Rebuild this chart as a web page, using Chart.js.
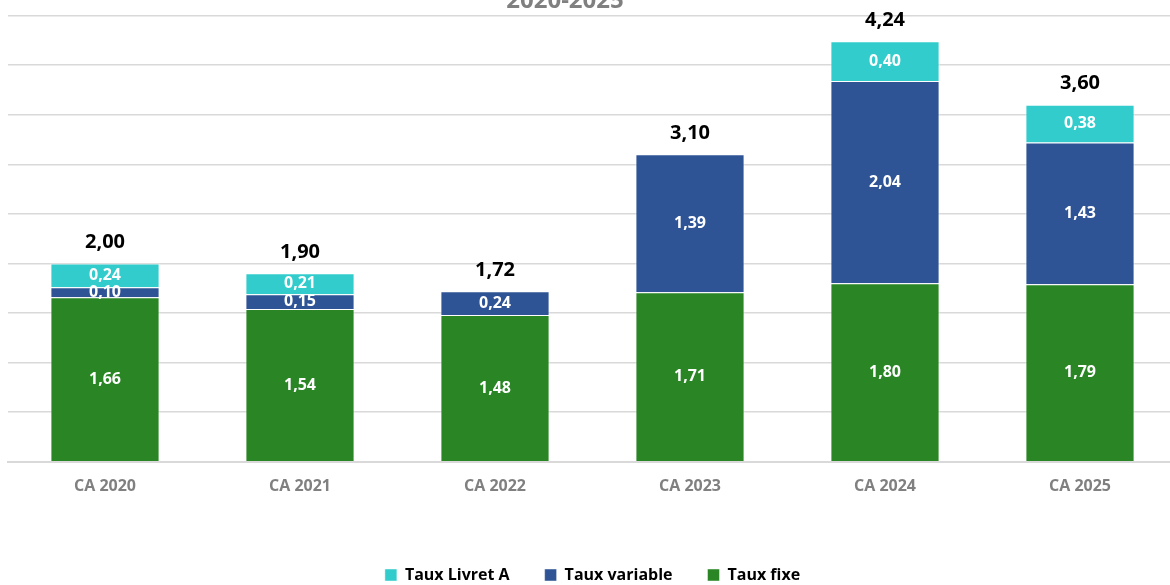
<!DOCTYPE html>
<html>
<head>
<meta charset="utf-8">
<script src="https://cdn.jsdelivr.net/npm/chart.js@4.4.0/dist/chart.umd.min.js"></script>
<style>
  html, body { margin: 0; padding: 0; background: #fff; overflow: hidden; width: 1170px; height: 585px; }
  #wrap { position: absolute; left: 0; top: -35px; width: 1180px; height: 628px; }
</style>
</head>
<body>
<div id="wrap"><canvas id="chart"></canvas></div>
<script>
// Données
const categories = ['CA 2020', 'CA 2021', 'CA 2022', 'CA 2023', 'CA 2024', 'CA 2025'];
const tauxFixe = [1.66, 1.54, 1.48, 1.71, 1.80, 1.79];
const tauxVariable = [0.10, 0.15, 0.24, 1.39, 2.04, 1.43];
const tauxLivretA = [0.24, 0.21, 0, 0, 0.40, 0.38];
const totaux = [2.00, 1.90, 1.72, 3.10, 4.24, 3.60];
const titre = '2020-2025';

const police = '"Open Sans", "Noto Sans", Arial, sans-serif';

function formatFr(v) {
    return v.toFixed(2).replace('.', ',');
}

// titre (coupé en haut) + étiquettes dans les barres + totaux au-dessus
const etiquettes = {
    id: 'etiquettes',
    afterDatasetsDraw(chart) {
        const ctx = chart.ctx;
        ctx.save();
        ctx.textAlign = 'center';

        ctx.textBaseline = 'alphabetic';
        ctx.fillStyle = '#808080';
        ctx.font = 'bold 24px ' + police;
        ctx.fillText(titre, 565, 43);

        ctx.textBaseline = 'middle';
        ctx.fillStyle = '#ffffff';
        ctx.font = 'bold 16px ' + police;
        chart.data.datasets.forEach((ds, i) => {
            chart.getDatasetMeta(i).data.forEach((bar, j) => {
                const v = ds.data[j];
                if (!v) return;
                ctx.fillText(formatFr(v), bar.x, (bar.y + bar.base) / 2);
            });
        });
        const y = chart.scales.y;
        const meta = chart.getDatasetMeta(0);
        ctx.fillStyle = '#000000';
        ctx.font = 'bold 20px ' + police;
        totaux.forEach((t, j) => {
            ctx.fillText(formatFr(t), meta.data[j].x, y.getPixelForValue(t) - 21);
        });
        ctx.restore();
    }
};

new Chart(document.getElementById('chart'), {
    type: 'bar',
    data: {
        labels: categories,
        datasets: [
            { label: 'Taux fixe', data: tauxFixe, backgroundColor: '#2A8624' },
            { label: 'Taux variable', data: tauxVariable, backgroundColor: '#2F5496' },
            { label: 'Taux Livret A', data: tauxLivretA, backgroundColor: '#33CCCC' }
        ].map(d => Object.assign(d, {
            borderColor: 'rgba(255,255,255,0.45)',
            borderWidth: 1,
            categoryPercentage: 1,
            barPercentage: 0.56
        }))
    },
    options: {
        responsive: true,
        maintainAspectRatio: false,
        animation: false,
        layout: { padding: { left: 7.5, right: 2.5, top: 50.5, bottom: 0 } },
        scales: {
            x: {
                stacked: true,
                grid: { display: false },
                border: { display: true, color: '#d9d9d9', width: 2 },
                ticks: {
                    color: '#808080',
                    font: { family: police, size: 16, weight: 'bold' },
                    padding: 7
                },
                afterFit(scale) { scale.height += 29; }
            },
            y: {
                stacked: true,
                min: 0,
                max: 4.5,
                ticks: { display: false, stepSize: 0.5 },
                border: { display: false },
                grid: { color: '#d9d9d9', lineWidth: 1.5, drawTicks: false }
            }
        },
        plugins: {
            title: { display: false },
            legend: {
                position: 'bottom',
                reverse: true,
                labels: {
                    color: '#000000',
                    font: { family: police, size: 16, weight: 'bold' },
                    boxWidth: 12,
                    boxHeight: 12,
                    padding: 35
                }
            },
            tooltip: { enabled: false }
        }
    },
    plugins: [etiquettes]
});
</script>
</body>
</html>
